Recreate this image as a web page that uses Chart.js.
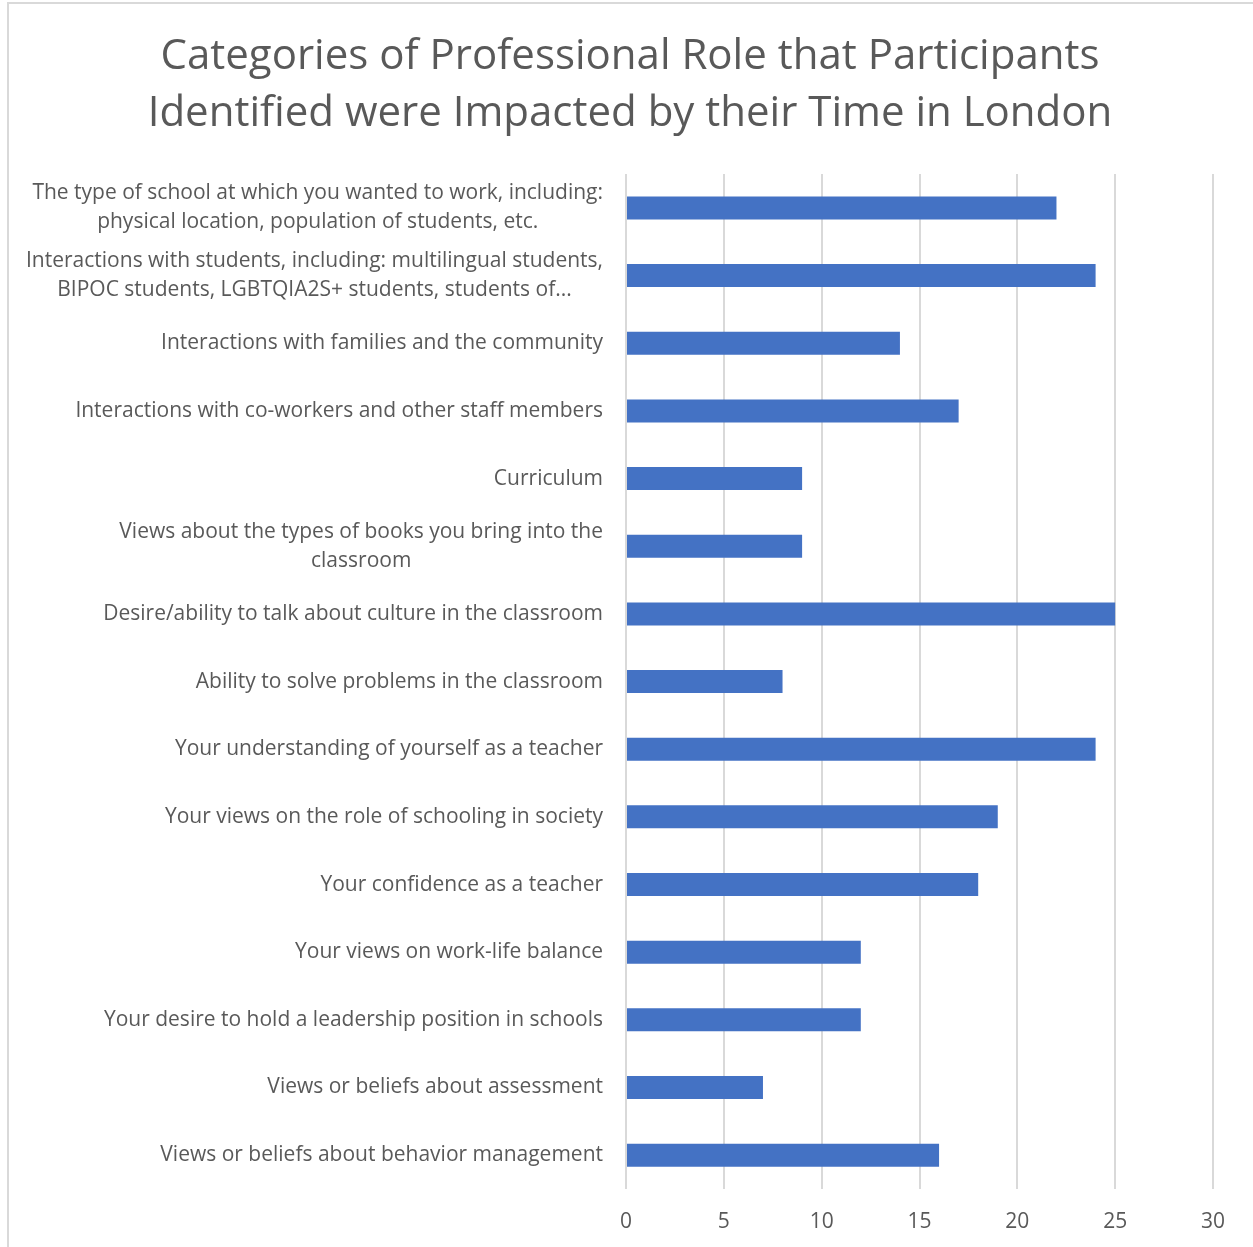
<!DOCTYPE html>
<html>
<head>
<meta charset="utf-8">
<script src="https://cdn.jsdelivr.net/npm/chart.js@4/dist/chart.umd.min.js"></script>
<style>
  body { margin: 0; background: #fff; }
  #frame {
    position: absolute; left: 7px; top: 2px; width: 1260px; height: 1260px;
    border-left: 2px solid #d9d9d9; border-top: 2px solid #d9d9d9;
  }
  #roleChart { position: absolute; left: 0; top: 0; }
</style>
</head>
<body>
<div id="frame"></div>
<canvas id="roleChart" width="1253" height="1247"></canvas>
<script>
const chartTitle = [
  'Categories of Professional Role that Participants',
  'Identified were Impacted by their Time in London'
];

const categories = [
  ['The type of school at which you wanted to work, including:', 'physical location, population of students, etc.'],
  ['Interactions with students, including: multilingual students,', 'BIPOC students, LGBTQIA2S+ students, students of...'],
  'Interactions with families and the community',
  'Interactions with co-workers and other staff members',
  'Curriculum',
  ['Views about the types of books you bring into the', 'classroom'],
  'Desire/ability to talk about culture in the classroom',
  'Ability to solve problems in the classroom',
  'Your understanding of yourself as a teacher',
  'Your views on the role of schooling in society',
  'Your confidence as a teacher',
  'Your views on work-life balance',
  'Your desire to hold a leadership position in schools',
  'Views or beliefs about assessment',
  'Views or beliefs about behavior management'
];

const participants = [22, 24, 14, 17, 9, 9, 25, 8, 24, 19, 18, 12, 12, 7, 16];

const xTicks = [0, 5, 10, 15, 20, 25, 30];

const FONT = '"Open Sans", sans-serif';
const GREY = '#595959';

// category labels: right edge fixed, each multi-line block centred on its widest line
const categoryLabels = {
  id: 'categoryLabels',
  afterDraw(chart) {
    const ctx = chart.ctx;
    const yScale = chart.scales.y;
    const right = chart.chartArea.left - 23;
    const lineH = 29;
    ctx.save();
    ctx.font = '21px ' + FONT;
    ctx.fillStyle = GREY;
    ctx.textAlign = 'center';
    ctx.textBaseline = 'middle';
    chart.data.labels.forEach(function (label, i) {
      const lines = Array.isArray(label) ? label : [label];
      const w = Math.max.apply(null, lines.map(l => ctx.measureText(l).width));
      const cx = right - w / 2;
      const cy = yScale.getPixelForTick(i);
      lines.forEach(function (line, j) {
        ctx.fillText(line, cx, cy + (j - (lines.length - 1) / 2) * lineH);
      });
    });
    ctx.restore();
  }
};

const ctx = document.getElementById('roleChart');

new Chart(ctx, {
  type: 'bar',
  data: {
    labels: categories,
    datasets: [{
      data: participants,
      backgroundColor: '#4472C4',
      borderWidth: 0,
      barPercentage: 0.34,
      categoryPercentage: 1
    }]
  },
  options: {
    indexAxis: 'y',
    responsive: false,
    animation: false,
    layout: { padding: { left: 47, right: 40, top: 4, bottom: 0 } },
    plugins: {
      legend: { display: false },
      tooltip: { enabled: false },
      title: {
        display: true,
        text: chartTitle,
        color: GREY,
        font: { family: FONT, size: 42, weight: 'normal', lineHeight: 1.37 },
        padding: { top: 24, bottom: 31 }
      }
    },
    scales: {
      x: {
        min: 0,
        max: 30,
        afterBuildTicks(axis) {
          axis.ticks = xTicks.map(v => ({ value: v }));
        },
        afterFit(axis) { axis.height = 58; },
        grid: { color: '#d9d9d9', lineWidth: 2, drawTicks: false },
        border: { display: false },
        ticks: { color: GREY, font: { family: FONT, size: 21 }, padding: 20 }
      },
      y: {
        afterFit(axis) { axis.width = 579; },
        grid: { display: false },
        border: { display: false },
        ticks: { display: false }
      }
    }
  },
  plugins: [categoryLabels]
});
</script>
</body>
</html>
